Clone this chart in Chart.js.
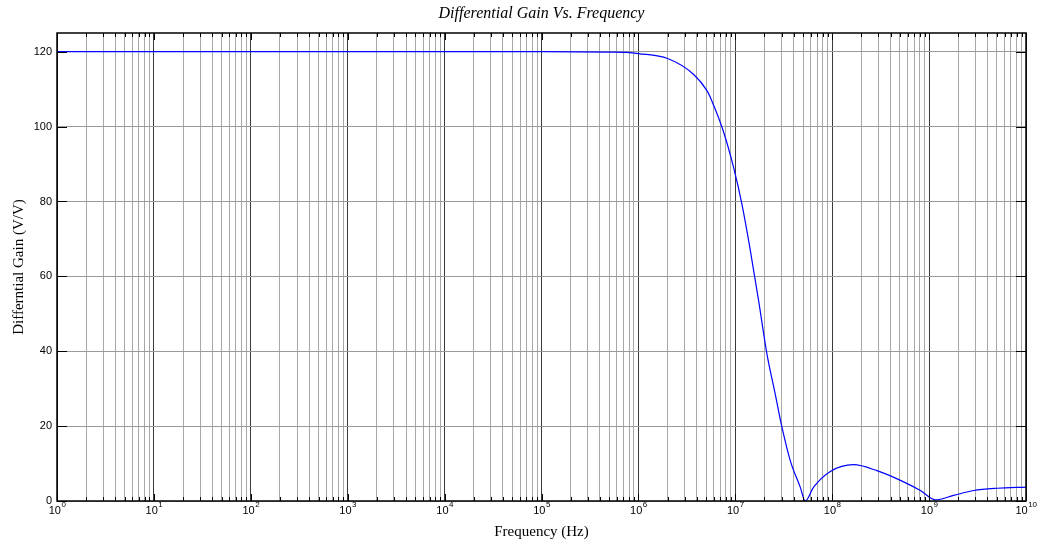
<!DOCTYPE html>
<html>
<head>
<meta charset="utf-8">
<script src="https://cdn.jsdelivr.net/npm/chart.js@4"></script>
<style>
  body { margin: 0; background: #fff; }
  #wrap { width: 1037px; height: 548px; }
</style>
</head>
<body>
<div id="wrap"><canvas id="gainChart" width="1037" height="548"></canvas></div>
<script>
// Differential gain vs frequency
const freqHz = [1, 1e3, 1e5, 5e5, 7.6e5, 1e6, 2e6, 3.7e6, 5.1e6, 5.7e6, 7.5e6, 9.6e6,
  1.17e7, 1.43e7, 1.74e7, 2.12e7, 2.58e7, 3.03e7, 3.69e7, 4.68e7, 5.27e7,
  6.43e7, 9.57e7, 1.66e8, 2.9e8, 5.06e8, 8.13e8, 1.16e9, 1.79e9, 2.89e9, 5.04e9, 1e10];
const gainVV = [120, 120, 120, 119.9, 119.8, 119.5, 118.2, 114, 109.6, 107, 98.9, 89.1,
  79.3, 66.9, 53.5, 39.3, 28.6, 19.7, 10.8, 3.7, 0,
  3.7, 7.9, 9.7, 8.1, 5.5, 2.8, 0.3, 1.5, 2.8, 3.4, 3.7];
const yTicks = [0, 20, 40, 60, 80, 100, 120];
const decades = [0, 1, 2, 3, 4, 5, 6, 7, 8, 9, 10];

// every 1..9 x 10^k for the log grid
const xTicks = [];
decades.forEach(k => {
  for (let m = 1; m <= 9; m++) {
    if (k === 10 && m > 1) break;
    xTicks.push(m * Math.pow(10, k));
  }
});
const isMajor = v => Math.abs(Math.log10(v) - Math.round(Math.log10(v))) < 1e-9;

// axis box, inward ticks, titles and 10^k labels
const framePlugin = {
  id: 'frame',
  afterDraw(chart) {
    const ctx = chart.ctx;
    const a = chart.chartArea;
    const xs = chart.scales.x, ys = chart.scales.y;
    ctx.save();
    ctx.strokeStyle = '#000';
    ctx.lineWidth = 1;
    ctx.beginPath();
    xTicks.forEach(v => {
      const px = Math.round(xs.getPixelForValue(v)) + 0.5;
      const len = isMajor(v) ? 7 : 4;
      ctx.moveTo(px, a.bottom); ctx.lineTo(px, a.bottom - len);
      ctx.moveTo(px, a.top); ctx.lineTo(px, a.top + len);
    });
    yTicks.forEach(v => {
      const py = Math.round(ys.getPixelForValue(v)) + 0.5;
      ctx.moveTo(a.left, py); ctx.lineTo(a.left + 10, py);
      ctx.moveTo(a.right, py); ctx.lineTo(a.right - 10, py);
    });
    ctx.stroke();
    ctx.lineWidth = 1.5;
    ctx.strokeRect(a.left, a.top, a.right - a.left, a.bottom - a.top);

    // x tick labels with superscript exponent
    ctx.fillStyle = '#000';
    ctx.textBaseline = 'alphabetic';
    decades.forEach(k => {
      const px = xs.getPixelForValue(Math.pow(10, k));
      ctx.font = '11px "Liberation Sans", Arial, sans-serif';
      const w1 = ctx.measureText('10').width;
      ctx.font = '8px "Liberation Sans", Arial, sans-serif';
      const w2 = ctx.measureText(String(k)).width;
      const x0 = px - (w1 + w2) / 2;
      ctx.font = '11px "Liberation Sans", Arial, sans-serif';
      ctx.textAlign = 'left';
      ctx.fillText('10', x0, a.bottom + 13);
      ctx.font = '8px "Liberation Sans", Arial, sans-serif';
      ctx.fillText(String(k), x0 + w1 + 0.5, a.bottom + 6);
    });

    ctx.textAlign = 'center';
    ctx.font = 'italic 16px "Liberation Serif", "Times New Roman", serif';
    ctx.fillText('Differential Gain Vs. Frequency', (a.left + a.right) / 2, 18);
    ctx.font = '15px "Liberation Serif", "Times New Roman", serif';
    ctx.fillText('Frequency (Hz)', (a.left + a.right) / 2, a.bottom + 35);
    ctx.translate(23, (a.top + a.bottom) / 2);
    ctx.rotate(-Math.PI / 2);
    ctx.fillText('Differntial Gain (V/V)', 0, 0);
    ctx.restore();
  }
};

new Chart(document.getElementById('gainChart'), {
  type: 'line',
  data: {
    datasets: [{
      data: freqHz.map((f, i) => ({ x: f, y: gainVV[i] })),
      borderColor: '#0000ff',
      borderWidth: 1.2,
      pointRadius: 0,
      fill: false,
      cubicInterpolationMode: 'monotone'
    }]
  },
  options: {
    responsive: false,
    animation: false,
    layout: { padding: { top: 33, right: 11, bottom: 0, left: 0 } },
    plugins: { legend: { display: false }, tooltip: { enabled: false } },
    scales: {
      x: {
        type: 'logarithmic',
        min: 1,
        max: 1e10,
        afterBuildTicks: s => { s.ticks = xTicks.map(v => ({ value: v })); },
        afterFit: s => { s.height = 47; },
        ticks: { display: false },
        border: { display: false },
        grid: {
          drawTicks: false,
          color: ctx => isMajor(ctx.tick.value) ? '#3a3a3a' : '#a8a8a8',
          lineWidth: 1
        }
      },
      y: {
        min: 0,
        max: 125,
        afterBuildTicks: s => { s.ticks = yTicks.map(v => ({ value: v })); },
        afterFit: s => { s.width = 57; },
        border: { display: false },
        ticks: {
          color: '#000',
          padding: 5,
          font: { family: '"Liberation Sans", Arial, sans-serif', size: 11 }
        },
        grid: { drawTicks: false, color: '#9a9a9a', lineWidth: 1 }
      }
    }
  },
  plugins: [framePlugin]
});
</script>
</body>
</html>
